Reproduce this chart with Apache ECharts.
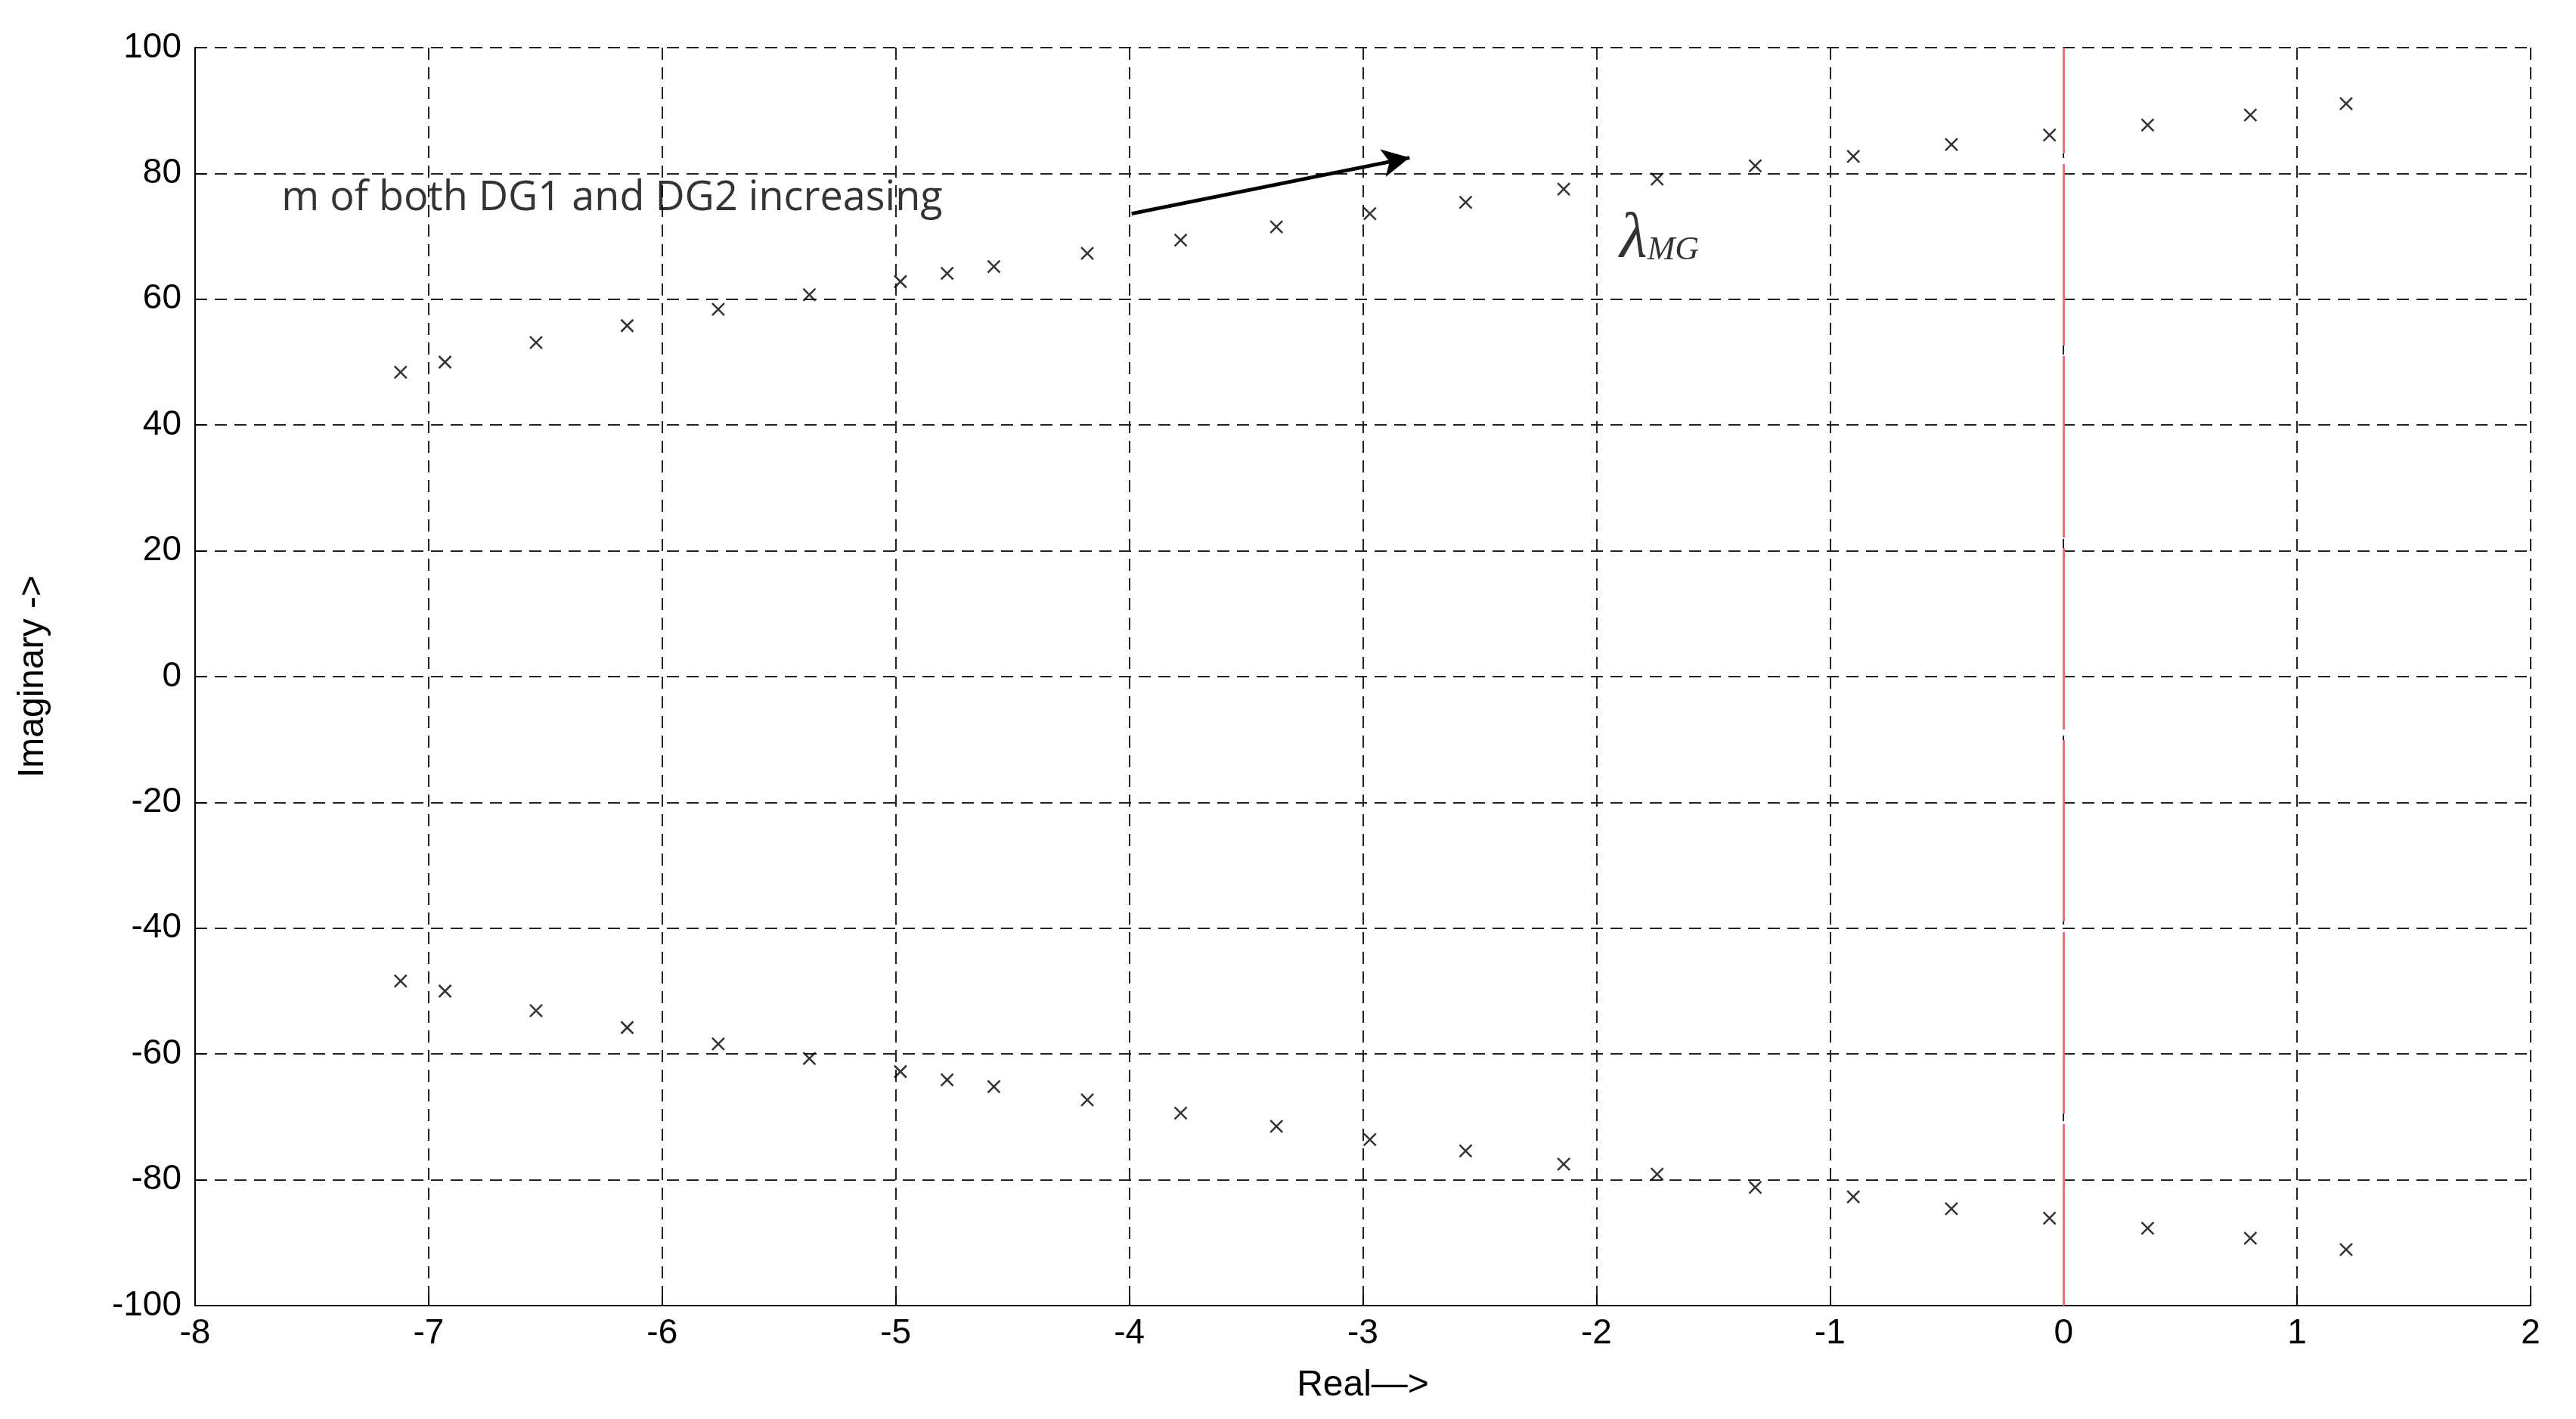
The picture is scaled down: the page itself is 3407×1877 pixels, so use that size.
<!DOCTYPE html>
<html><head><meta charset="utf-8">
<script src="https://cdn.jsdelivr.net/npm/echarts@6/dist/echarts.min.js"></script>
<style>html,body{margin:0;background:#fff}#c{width:3407px;height:1877px}</style></head>
<body><div id="c"></div>
<script>
const realParts = [-7.12,-6.93,-6.54,-6.15,-5.76,-5.37,-4.98,-4.78,-4.58,-4.18,-3.78,-3.37,-2.97,-2.56,-2.14,-1.74,-1.32,-0.90,-0.48,-0.06,0.36,0.80,1.21];
const imagParts = [48.4,50.0,53.1,55.8,58.4,60.7,62.8,64.1,65.2,67.3,69.4,71.5,73.6,75.4,77.5,79.1,81.2,82.7,84.6,86.1,87.7,89.3,91.1];
const arrowStart = [-3.99, 73.6];
const arrowEnd = [-2.80, 82.5];
const annotText = 'm of both DG1 and DG2 increasing';
const annotPos = [-7.63, 76.0];
const lambdaPos = [-1.9, 69.5];

const upper = realParts.map((r,i)=>[r, imagParts[i]]);
const lower = realParts.map((r,i)=>[r, -imagParts[i]]);
const xSym = 'path://M0,0L10,10M10,0L0,10';
const gridLine = {show:true, lineStyle:{color:'#222', type:[16,10], width:2}};
const chart = echarts.init(document.getElementById('c'));
chart.setOption({
  animation:false,
  grid:{left:258,right:60,top:63,bottom:150},
  xAxis:{type:'value',min:-8,max:2,interval:1,name:'Real—>',nameLocation:'middle',nameGap:82,
    nameTextStyle:{fontSize:48,fontFamily:'Liberation Sans',color:'#000'},
    axisLine:{onZero:false,lineStyle:{color:'#000',width:2}},axisTick:{inside:true,length:14,lineStyle:{width:2}},
    axisLabel:{fontSize:46,fontFamily:'Liberation Sans',color:'#000',margin:14},splitLine:gridLine},
  yAxis:{type:'value',min:-100,max:100,interval:20,name:'Imaginary ->',nameLocation:'middle',nameGap:190,
    nameTextStyle:{fontSize:48,fontFamily:'Liberation Sans',color:'#000'},
    axisLine:{onZero:false,lineStyle:{color:'#000',width:2}},axisTick:{inside:true,length:14,lineStyle:{width:2}},
    axisLabel:{fontSize:46,fontFamily:'Liberation Sans',color:'#000',margin:18},splitLine:gridLine},
  series:[
    {type:'scatter',data:upper,symbol:xSym,symbolSize:16,itemStyle:{color:'rgba(0,0,0,0)',borderColor:'#000',borderWidth:2.5},
     markLine:{silent:true,symbol:['none','arrow'],symbolSize:[28,36],
       lineStyle:{color:'#000',width:5,type:'solid'},label:{show:false},
       data:[[{coord:arrowStart},{coord:arrowEnd}]]}},
    {type:'scatter',data:lower,symbol:xSym,symbolSize:16,itemStyle:{color:'rgba(0,0,0,0)',borderColor:'#000',borderWidth:2.5},
     markLine:{silent:true,symbol:['none','none'],lineStyle:{color:'#f07070',width:3,type:[240,14]},label:{show:false},
       data:[{xAxis:0}]}},
    {type:'scatter',symbolSize:0,silent:true,data:[annotPos],
     label:{show:true,position:'right',distance:0,formatter:annotText,fontSize:54,fontFamily:'Open Sans',color:'#000'}},
    {type:'scatter',symbolSize:0,silent:true,data:[lambdaPos],
     label:{show:true,position:'right',distance:0,formatter:'{a|λ}{b|MG}',
       rich:{a:{fontSize:84,fontStyle:'italic',fontFamily:'Liberation Serif',color:'#000'},
             b:{fontSize:44,fontStyle:'italic',fontFamily:'Liberation Serif',color:'#000',padding:[30,0,0,0]}}}}
  ]
});
</script></body></html>
